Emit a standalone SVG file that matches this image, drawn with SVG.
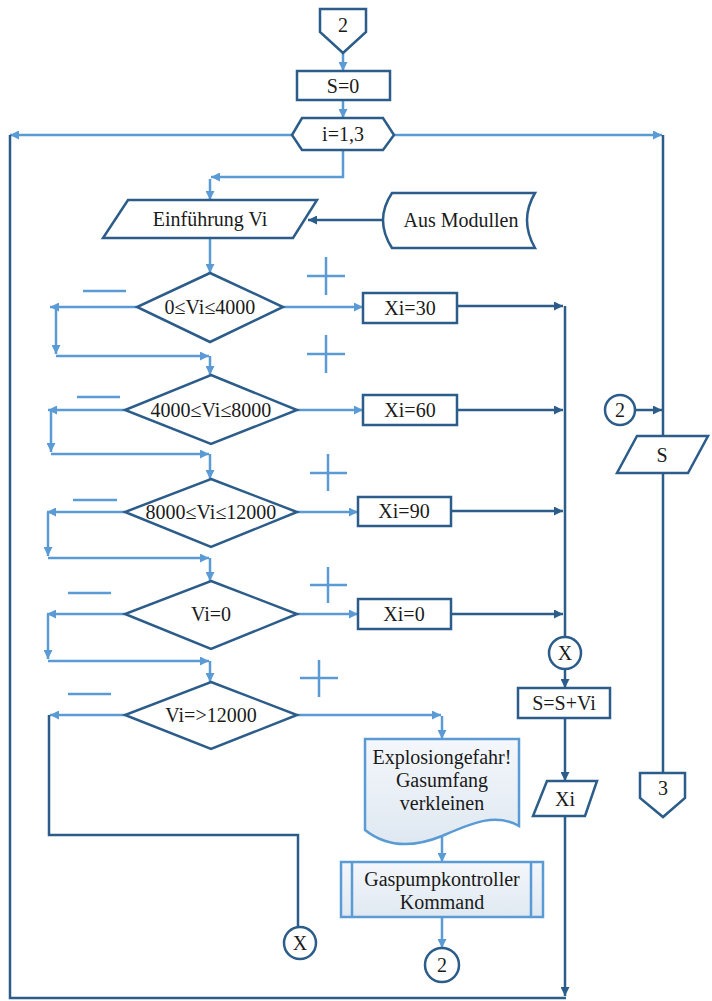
<svg xmlns="http://www.w3.org/2000/svg" width="712" height="1001" viewBox="0 0 712 1001">
<style>
.sh{fill:#fff;stroke:#2b5c8a;stroke-width:2.5}
.sl{fill:url(#gr);stroke:#5b9bd5;stroke-width:2.5}
.t{font-family:'Liberation Serif','Times New Roman','DejaVu Serif',serif;font-size:20px;fill:#1a1a1a;text-anchor:middle;dominant-baseline:central}
.cl{fill:none;stroke:#5b9bd5;stroke-width:2.5}
.cd{fill:none;stroke:#2b5c8a;stroke-width:2.5}
.al{marker-end:url(#ml)}
.ad{marker-end:url(#md)}
.pm{fill:none;stroke:#5b9bd5;stroke-width:2.5}
</style>
<defs>
<marker id="ml" viewBox="0 0 10 10" refX="10" refY="5" markerWidth="10" markerHeight="9" markerUnits="userSpaceOnUse" orient="auto"><path d="M0,0 L10,5 L0,10 Z" fill="#5b9bd5"/></marker>
<marker id="md" viewBox="0 0 10 10" refX="10" refY="5" markerWidth="10" markerHeight="9" markerUnits="userSpaceOnUse" orient="auto"><path d="M0,0 L10,5 L0,10 Z" fill="#2b5c8a"/></marker>
<linearGradient id="gr" x1="0" y1="0" x2="0" y2="1"><stop offset="0" stop-color="#f4f7fb"/><stop offset="1" stop-color="#dfe8f1"/></linearGradient>
</defs>
<rect width="712" height="1001" fill="#fff"/>
<g id="connectors">
<path class="cl al" d="M343,53 V71"/>
<path class="cl al" d="M343,100 V118"/>
<path class="cl al" d="M292,135 H10"/>
<path class="cl al" d="M394,135 H662"/>
<path class="cl al" d="M343,150 V177 H211"/>
<path class="cl al" d="M210,179 V200"/>
<path class="cd ad" d="M383,220 H308"/>
<path class="cl al" d="M210,238 V273"/>
<path class="cl al" d="M137,307 H50"/>
<path class="cl al" d="M56,307 V354"/>
<path class="cl al" d="M56,356 H209"/>
<path class="cl al" d="M210,356 V375"/>
<path class="cl al" d="M283,307 H363"/>
<path class="cd ad" d="M457,306 H563"/>
<path class="cl al" d="M125,410 H48"/>
<path class="cl al" d="M51,410 V452"/>
<path class="cl al" d="M51,454 H209"/>
<path class="cl al" d="M210,454 V479"/>
<path class="cl al" d="M297,410 H363"/>
<path class="cd ad" d="M457,410 H563"/>
<path class="cl al" d="M125,512 H47"/>
<path class="cl al" d="M48,512 V556"/>
<path class="cl al" d="M48,558 H209"/>
<path class="cl al" d="M210,558 V581"/>
<path class="cl al" d="M297,512 H358"/>
<path class="cd ad" d="M451,511 H563"/>
<path class="cl al" d="M125,614 H47"/>
<path class="cl al" d="M48,614 V659"/>
<path class="cl al" d="M48,661 H209"/>
<path class="cl al" d="M210,661 V682"/>
<path class="cl al" d="M297,614 H358"/>
<path class="cd ad" d="M451,614 H563"/>
<path class="cl al" d="M125,715 H50"/>
<path class="cd" d="M49,715 V835 H298 V927"/>
<path class="cl al" d="M297,715 H441"/>
<path class="cl al" d="M442,716 V739"/>
<path class="cl al" d="M442,834 V862"/>
<path class="cl al" d="M442,917 V948"/>
<path class="cd" d="M565,306 V637"/>
<path class="cd ad" d="M565,669 V688"/>
<path class="cd ad" d="M565,718 V781"/>
<path class="cd ad" d="M565,816 V996"/>
<path class="cd" d="M10,135 V998 H566"/>
<path class="cd" d="M663,135 V773"/>
<path class="cd ad" d="M635,410 H662"/>
</g>
<g id="signs">
<path class="pm" d="M307,276 H345 M326,257 V295"/>
<path class="pm" d="M307,354 H345 M326,335 V373"/>
<path class="pm" d="M310,473 H347 M328,454 V491"/>
<path class="pm" d="M310,585 H347 M328,567 V603"/>
<path class="pm" d="M300,678 H338 M319,660 V697"/>
<path class="pm" d="M83,291 H126"/>
<path class="pm" d="M77,397 H120"/>
<path class="pm" d="M73,500 H117"/>
<path class="pm" d="M68,593 H111"/>
<path class="pm" d="M68,694 H111"/>
</g>
<g font-family="Liberation Serif, Times New Roman, serif">
<g id="start"><path class="sh" d="M320,9 H366 V32 L343,53 L320,32 Z"/><text class="t" x="343" y="25">2</text></g>
<g id="s0"><rect class="sh" x="297" y="71" width="93" height="29"/><text class="t" x="343" y="86">S=0</text></g>
<g id="loop"><path class="sh" d="M292,135 L302,118 H383 L394,135 L383,150 H302 Z"/><text class="t" x="343" y="134">i=1,3</text></g>
<g id="input"><path class="sh" d="M128,200 H317 L293,238 H103 Z"/><text class="t" x="210" y="219">Einführung Vi</text></g>
<g id="modules"><path class="sh" d="M392,193 H535 Q519,220 535,248 H392 Q374,220 392,193 Z"/><text class="t" x="461" y="220">Aus Modullen</text></g>
<g id="d1"><path class="sh" d="M210,273 L283,307 L210,342 L137,307 Z"/><text class="t" x="210" y="307">0≤Vi≤4000</text></g>
<g id="d2"><path class="sh" d="M211,375 L297,410 L211,444 L125,410 Z"/><text class="t" x="211" y="410">4000≤Vi≤8000</text></g>
<g id="d3"><path class="sh" d="M211,479 L297,512 L211,547 L125,512 Z"/><text class="t" x="211" y="512">8000≤Vi≤12000</text></g>
<g id="d4"><path class="sh" d="M211,581 L297,614 L211,649 L125,614 Z"/><text class="t" x="211" y="614">Vi=0</text></g>
<g id="d5"><path class="sh" d="M211,682 L297,715 L211,749 L125,715 Z"/><text class="t" x="211" y="715">Vi=&gt;12000</text></g>
<g id="x30"><rect class="sh" x="363" y="293" width="94" height="30"/><text class="t" x="410" y="308">Xi=30</text></g>
<g id="x60"><rect class="sh" x="363" y="395" width="94" height="30"/><text class="t" x="410" y="410">Xi=60</text></g>
<g id="x90"><rect class="sh" x="358" y="497" width="93" height="29"/><text class="t" x="404" y="511">Xi=90</text></g>
<g id="x0"><rect class="sh" x="358" y="599" width="93" height="30"/><text class="t" x="404" y="614">Xi=0</text></g>
<g id="warn"><path class="sl" d="M365,739 H519 V826 C495,812 470,824 442,836 C410,849 385,846 365,830 Z"/><text class="t" x="442" y="757">Explosiongefahr!</text><text class="t" x="442" y="780">Gasumfang</text><text class="t" x="442" y="803">verkleinen</text></g>
<g id="pump"><rect class="sl" x="341" y="862" width="202" height="55"/><path class="sl" d="M352,862 V917 M531,862 V917"/><text class="t" x="442" y="879">Gaspumpkontroller</text><text class="t" x="442" y="902">Kommand</text></g>
<g id="xc2"><circle class="sh" cx="300" cy="943" r="16"/><text class="t" x="300" y="943">X</text></g>
<g id="c2b"><circle class="sh" cx="442" cy="965" r="17"/><text class="t" x="442" y="965">2</text></g>
<g id="xc1"><circle class="sh" cx="565" cy="653" r="16"/><text class="t" x="565" y="653">X</text></g>
<g id="sum"><rect class="sh" x="518" y="688" width="92" height="30"/><text class="t" x="564" y="703">S=S+Vi</text></g>
<g id="outx"><path class="sh" d="M547,781 H597 L585,816 H533 Z"/><text class="t" x="565" y="799">Xi</text></g>
<g id="c2r"><circle class="sh" cx="620" cy="410" r="15"/><text class="t" x="620" y="410">2</text></g>
<g id="outs"><path class="sh" d="M637,436 H708 L688,473 H617 Z"/><text class="t" x="662" y="455">S</text></g>
<g id="end3"><path class="sh" d="M640,773 H685 V798 L663,817 L640,798 Z"/><text class="t" x="663" y="788">3</text></g>
</g>
</svg>
